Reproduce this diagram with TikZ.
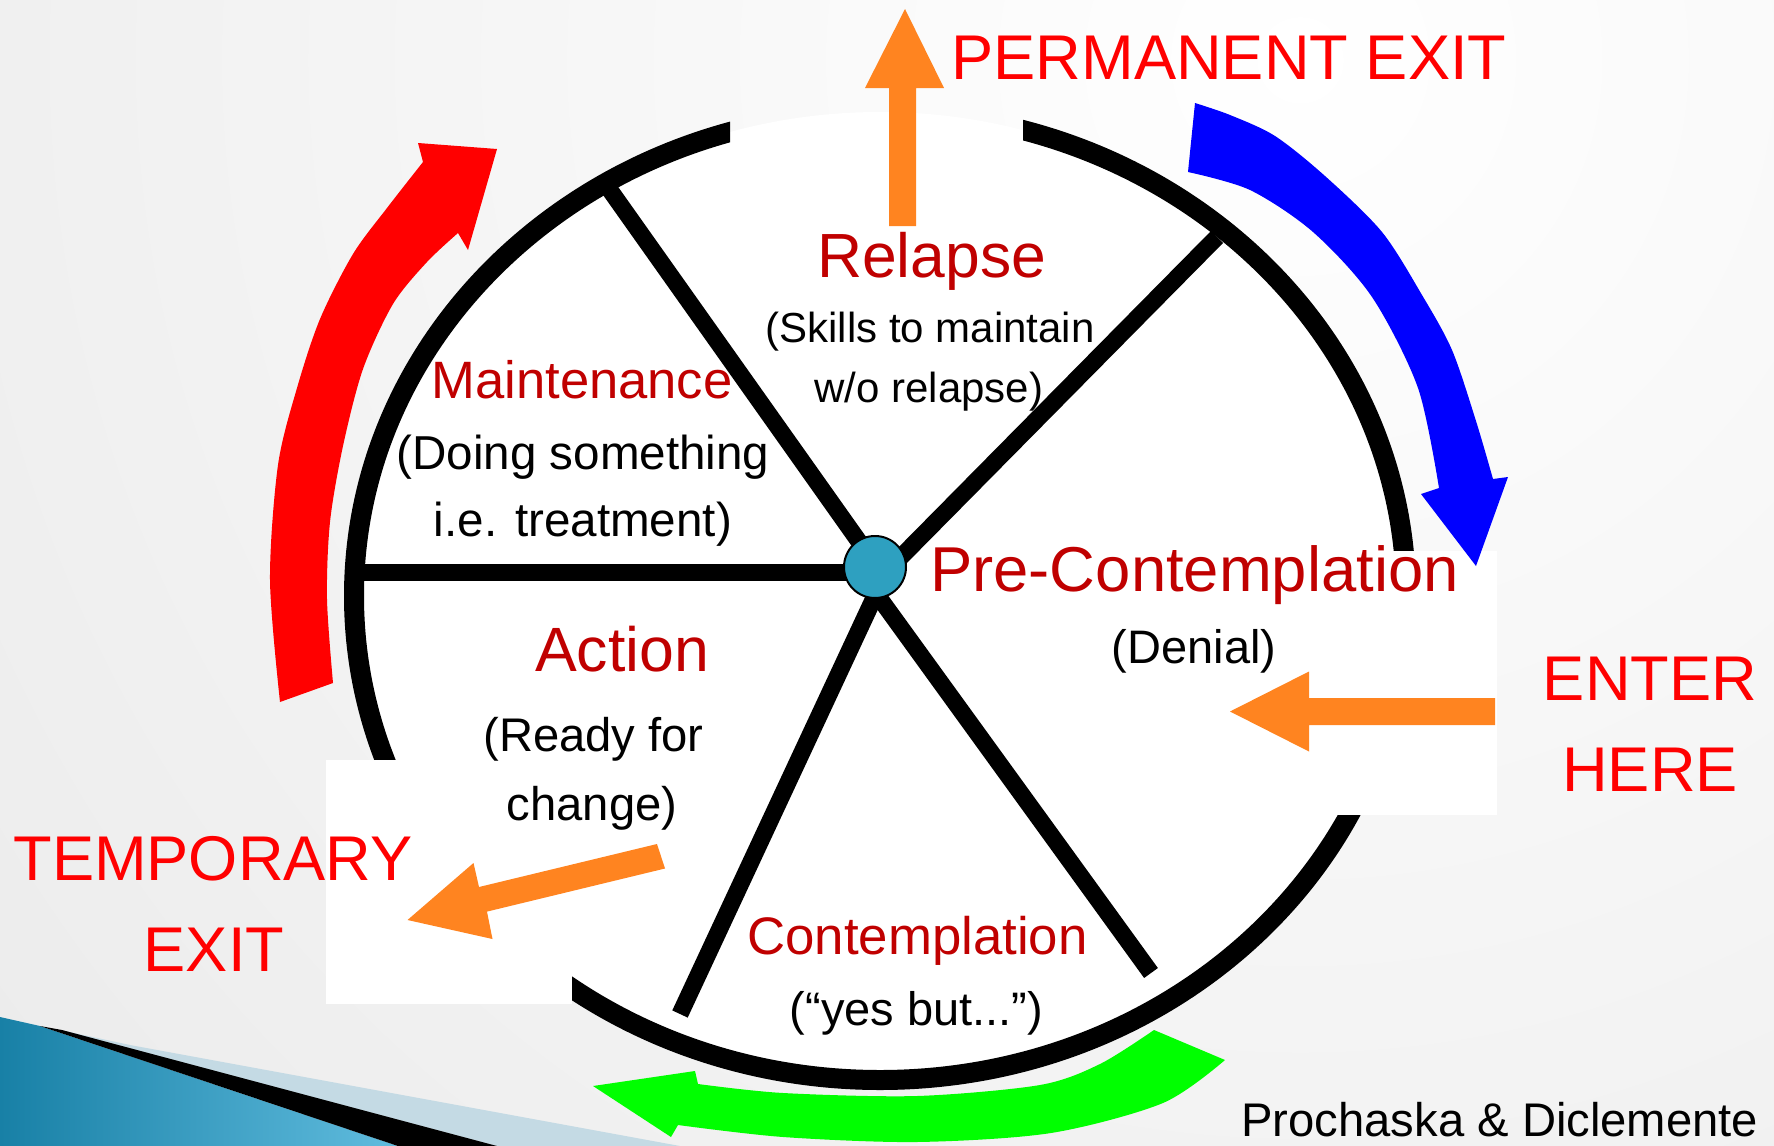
\documentclass[tikz,border=0pt]{standalone}
\usepackage{fontspec}
\setmainfont{Liberation Sans}
\definecolor{stagered}{RGB}{192,0,0}
\definecolor{exitred}{RGB}{255,0,0}
\definecolor{orangearrow}{RGB}{255,132,32}
\definecolor{tealdot}{RGB}{46,160,192}
\definecolor{bluearrow}{RGB}{0,0,255}
\definecolor{greenarrow}{RGB}{0,255,0}
\definecolor{swooshdark}{RGB}{24,128,166}
\definecolor{swooshlight}{RGB}{96,188,222}
\definecolor{swooshpale}{RGB}{196,218,228}
\newcommand{\fsize}[1]{\fontsize{#1}{#1}\selectfont}
\begin{document}
\begin{tikzpicture}[x=0.5pt,y=-0.5pt,
  stagelbl/.style={text=stagered, anchor=base, inner sep=0pt},
  sublbl/.style={text=black, anchor=base, inner sep=0pt},
  exitlbl/.style={text=exitred, anchor=base, inner sep=0pt, font=\fsize{31.6}},
  ring/.style={draw=black, line width=10pt},
  spoke/.style={draw=black, line width=8.5pt},
  whitebox/.style={fill=white, draw=none},
  orangeblock/.style={fill=orangearrow, draw=none},
  hubdot/.style={circle, fill=tealdot, draw=black, line width=1pt, minimum size=31pt, inner sep=0pt}]
\useasboundingbox (0,0) rectangle (1774,1146);
% background
\begin{scope}
  \clip (0,0) rectangle (1774,1146);
  \shade[inner color=white, outer color=black!15] (1300,60) circle (1650pt);
  % bottom-left decoration
  \fill[swooshpale] (60,1030) -- (130,1045) -- (680,1146) -- (497,1146) -- cycle;
  \shade[left color=swooshdark, right color=swooshlight] (0,1017) -- (40,1026) -- (398,1146) -- (0,1146) -- cycle;
  \fill[black] (40,1026) -- (62,1030) -- (497,1146) -- (398,1146) -- cycle;
\end{scope}
% wheel
\fill[white] (880,596) ellipse [x radius=263pt, y radius=242pt];
\begin{scope}
  \clip (0,0) rectangle (730,1146) (1023,0) rectangle (1774,1146) (730,160) rectangle (1023,1146);
  \draw[ring] (880,596) ellipse [x radius=263pt, y radius=242pt];
\end{scope}
% white boxes covering the ring
\fill[whitebox] (1100,551) rectangle (1497,815);
\fill[whitebox] (326,760) rectangle (572,1004);
% spokes
\coordinate (tlA) at (877,567);   \coordinate (tlB) at (600,176);
\coordinate (trA) at (891,567);   \coordinate (trB) at (1217,237);
\coordinate (hzA) at (875,572);   \coordinate (hzB) at (354,572);
\coordinate (dlA) at (880,585);   \coordinate (dlB) at (680,1014);
\coordinate (drA) at (870,585);   \coordinate (drB) at (1151,973);
\draw[spoke] (tlA) -- (tlB);
\draw[spoke] (trA) -- (trB);
\draw[spoke] (hzA) -- (hzB);
\draw[spoke] (dlA) -- (dlB);
\draw[spoke] (drA) -- (drB);
\node[hubdot] (hub) at (875,567) {};
% red curved arrow
\fill[exitred] (280,702) -- plot[smooth] coordinates {(280,702) (270,580) (278,465) (297,388) (320,319) (353,254) (387,208) (423,162)}
  -- (418,143) -- (497,149) -- (468,250) -- (458,233)
  -- plot[smooth] coordinates {(458,233) (427,262) (393,304) (363,369) (343,446) (330,522) (327,599) (333,683)} -- cycle;
% blue curved arrow
\fill[bluearrow] (1195,103) -- plot[smooth] coordinates {(1195,103) (1230,115) (1275,136) (1325,176) (1382,232) (1422,295) (1452,350) (1476,421) (1493,479)}
  -- (1508,477) -- (1476,566) -- (1421,494) -- (1439,488)
  -- plot[smooth] coordinates {(1439,488) (1418,388) (1372,297) (1313,232) (1250,190) (1188,172)} -- cycle;
% green curved arrow
\fill[greenarrow] (593,1086) -- (695,1071) -- (698,1084)
  -- plot[smooth] coordinates {(698,1084) (783,1093) (917,1096) (1040,1085) (1100,1064) (1154,1030)}
  -- (1225,1060)
  -- plot[smooth] coordinates {(1225,1060) (1163,1103) (1051,1133) (917,1142) (783,1137) (678,1125)}
  -- (671,1137) -- cycle;
% orange block arrows
\fill[orangeblock] (889,226) -- (889,88) -- (865,88) -- (905,9) -- (944,88) -- (916,88) -- (916,226) -- cycle;
\fill[orangeblock] (1495,698) -- (1309,698) -- (1309,671.5) -- (1230,711.5) -- (1309,751.5) -- (1309,725) -- (1495,725) -- cycle;
\fill[orangeblock] (657,844) -- (479,887) -- (473.5,863) -- (407.5,920) -- (492.5,939) -- (487,911.6) -- (665,868.5) -- cycle;
% stage labels
\node[stagelbl, font=\fsize{31.2}] (relapse) at (931.5,277) {Relapse};
\node[sublbl, font=\fsize{21}] (relapse1) at (930,342) {(Skills to maintain};
\node[sublbl, font=\fsize{21}] (relapse2) at (929,402) {w/o relapse)};
\node[stagelbl, font=\fsize{26.3}] (maint) at (582,398) {Maintenance};
\node[sublbl, font=\fsize{23.8}] (maint1) at (583,469) {(Doing something};
\node[sublbl, font=\fsize{23.8}] (maint2) at (583,536) {i.e. treatment)};
\node[stagelbl, font=\fsize{31.7}] (precon) at (1194.5,591.5) {Pre-Contemplation};
\node[sublbl, font=\fsize{23.5}] (precon1) at (1194,663) {(Denial)};
\node[stagelbl, font=\fsize{31.3}] (action) at (622,671.5) {Action};
\node[sublbl, font=\fsize{23.6}] (action1) at (593.5,751.5) {(Ready for};
\node[sublbl, font=\fsize{23.6}] (action2) at (592,820) {change)};
\node[stagelbl, font=\fsize{26.4}] (contem) at (917.5,954.6) {Contemplation};
\node[sublbl, font=\fsize{23.5}] (contem1) at (916.5,1025) {(“yes but...”)};
\node[sublbl, font=\fsize{23.6}, anchor=base west] (credit) at (1241,1136) {Prochaska \& Diclemente};
% exit labels
\node[exitlbl] (perm) at (1229,79.7) {PERMANENT EXIT};
\node[exitlbl] (enter1) at (1650,700) {ENTER};
\node[exitlbl] (enter2) at (1650,791.5) {HERE};
\node[exitlbl] (temp1) at (213,880) {TEMPORARY};
\node[exitlbl] (temp2) at (214,971) {EXIT};
\end{tikzpicture}
\end{document}
